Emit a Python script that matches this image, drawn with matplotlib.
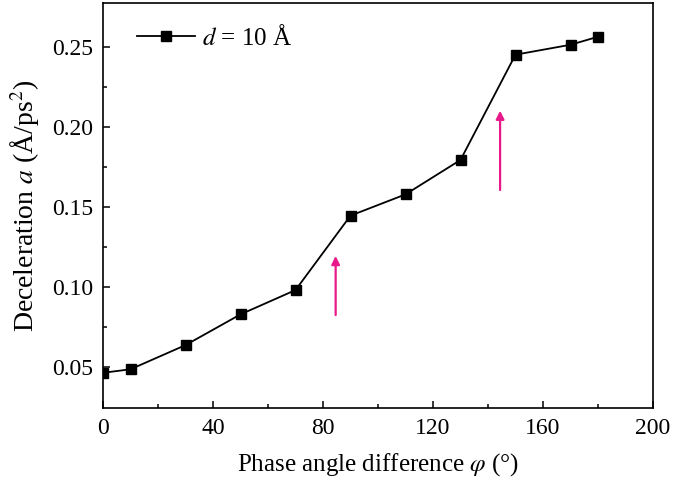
import matplotlib
matplotlib.use("Agg")
import matplotlib.pyplot as plt

# data
phase = [0, 10, 30, 50, 70, 90, 110, 130, 150, 170, 180]
decel = [0.0466, 0.0488, 0.0639, 0.0831, 0.0983, 0.1448, 0.1581, 0.1796,
         0.2454, 0.2516, 0.2566]
xticks = [0, 40, 80, 120, 160, 200]
yticks = [0.05, 0.10, 0.15, 0.20, 0.25]
# arrows: (x, y_tail, y_head)
arrows = [(84.6, 0.0827, 0.1196), (144.4, 0.1608, 0.2104)]

plt.rcParams["font.family"] = ["Liberation Serif", "DejaVu Serif"]
plt.rcParams["mathtext.fontset"] = "stix"

fig = plt.figure(figsize=(6.75, 4.92), dpi=100)
ax = fig.add_axes([103 / 675, 84 / 492, 550 / 675, 405 / 492])

ax.plot(phase, decel, color="black", lw=1.3, marker="s", ms=7,
        label=r"$d$ = 10 Å")

for x, y0, y1 in arrows:
    ax.annotate("", xy=(x, y1), xytext=(x, y0),
                arrowprops=dict(arrowstyle="-|>", color="#e8198b", lw=1.6,
                                mutation_scale=12, shrinkA=0, shrinkB=0))

ax.set_xlim(0, 200)
ax.set_ylim(0.0246, 0.2777)
ax.set_xticks(xticks)
ax.set_xticks([20, 60, 100, 140, 180], minor=True)
ax.set_yticks(yticks)
ax.set_yticks([0.075, 0.125, 0.175, 0.225], minor=True)
ax.set_yticklabels([f"{v:.2f}" for v in yticks])

ax.tick_params(which="both", direction="in", top=False, right=False,
               labelsize=17, width=1.1)
ax.tick_params(which="major", length=5, pad=7)
ax.tick_params(which="minor", length=3)
for s in ax.spines.values():
    s.set_linewidth(1.2)

ax.set_xlabel(r"Phase angle difference $\varphi$ (°)", fontsize=18, labelpad=9)
ax.set_ylabel(r"Deceleration $a$ (Å/ps$^2$)", fontsize=20, labelpad=8)

ax.legend(loc="upper left", bbox_to_anchor=(34 / 550, 1 - 22 / 405),
          frameon=False, fontsize=18, handlelength=2.3,
          borderaxespad=0, borderpad=0, handletextpad=0.3)

fig.savefig("out.png", dpi=100)
